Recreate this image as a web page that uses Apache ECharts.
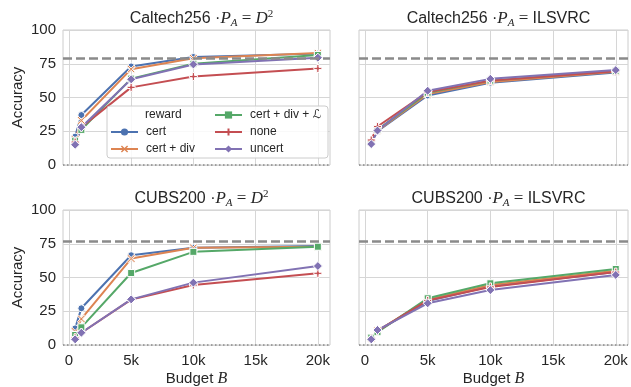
<!DOCTYPE html>
<html><head><meta charset="utf-8">
<script src="https://cdn.jsdelivr.net/npm/echarts@6/dist/echarts.min.js"></script>
<style>html,body{margin:0;padding:0;background:#fff}#c{width:631px;height:387px}</style>
</head><body><div id="c"></div>
<script>
// ---------- data ----------
const budgets = [500, 1000, 5000, 10000, 20000];
const methods = ['cert', 'cert + div', 'cert + div + ℒ', 'none', 'uncert'];
const xTicks = [0, 5000, 10000, 15000, 20000];
const xTickLabels = ['0', '5k', '10k', '15k', '20k'];
const yTicks = [0, 25, 50, 75, 100];

// rows: cert, cert+div, cert+div+L, none, uncert
const caltechD2 = [
  [21, 37, 73, 80, 82.5],
  [19, 33, 71, 79, 83],
  [18, 26, 64, 75, 81.5],
  [17, 28, 57.5, 65.5, 71.5],
  [15, 28, 63.5, 74.5, 79.5]
];
const caltechILSVRC = [
  [17, 25, 51.5, 61, 68.5],
  [17, 25.5, 52.5, 61.5, 69],
  [17, 26, 53.5, 62.5, 69.8],
  [18.5, 28.5, 54, 62.5, 69.5],
  [15.5, 25.5, 55, 63.8, 70.3]
];
const cubsD2 = [
  [12.3, 27.2, 66.5, 72, 73.3],
  [10, 19.3, 64, 72, 72.8],
  [7.4, 13.1, 53.3, 69, 72.8],
  [5.4, 9.1, 33.6, 44.4, 53.1],
  [4.2, 9.1, 33.8, 46.2, 58.5]
];
const cubsILSVRC = [
  [5, 10.5, 32.5, 43.5, 54],
  [5, 10.5, 33.5, 44.5, 55],
  [5.5, 9.5, 34.6, 45.7, 56.3],
  [5, 10.5, 33, 43, 54],
  [4.2, 11.1, 30.9, 40.7, 51.9]
];
const refCaltech = 79.2;
const refCubs = 76.5;
const datasetNames = ['Caltech256', 'Caltech256', 'CUBS200', 'CUBS200'];
const priorNames = ['D2', 'ILSVRC', 'D2', 'ILSVRC'];

// ---------- styles ----------
const panelData = [caltechD2, caltechILSVRC, cubsD2, cubsILSVRC];
const panelRef = [refCaltech, refCaltech, refCubs, refCubs];
const colors = ['#4C72B0', '#DD8452', '#55A868', '#C44E52', '#8172B3'];
const X_PATH = 'path://M-2.6,-3.6L0,-1L2.6,-3.6L3.6,-2.6L1,0L3.6,2.6L2.6,3.6L0,1L-2.6,3.6L-3.6,2.6L-1,0L-3.6,-2.6Z';
const PLUS_PATH = 'path://M-1,-3.6H1V-1H3.6V1H1V3.6H-1V1H-3.6V-1H-1Z';
const symbols = ['circle', X_PATH, 'rect', PLUS_PATH, 'diamond'];
const symbolSizes = [7, 8, 7, 8, 9];
const grids = [
  {left: 63, top: 30, width: 267, height: 135},
  {left: 359, top: 30, width: 269, height: 135},
  {left: 63, top: 210, width: 267, height: 135},
  {left: 359, top: 210, width: 269, height: 135}
];
const FONT = "'Liberation Sans', 'DejaVu Sans', sans-serif";
const SERIF = "'Liberation Serif', 'DejaVu Serif', serif";
const TXT = '#262626';
const GRIDC = '#d6d6d6';

const titleRich = {
  a: {fontSize: 16, fontFamily: FONT, color: TXT, fontWeight: 'normal'},
  i: {fontSize: 17, fontFamily: SERIF, fontStyle: 'italic', color: TXT, fontWeight: 'normal'},
  e: {fontSize: 17, fontFamily: SERIF, color: TXT, fontWeight: 'normal'},
  s: {fontSize: 11, fontFamily: SERIF, fontStyle: 'italic', color: TXT, fontWeight: 'normal', padding: [9, 0, 0, 0]},
  p: {fontSize: 11, fontFamily: SERIF, color: TXT, fontWeight: 'normal', padding: [0, 0, 9, 0]}
};

function titleText(p) {
  const prior = priorNames[p] === 'D2' ? '{i|D}{p|2}' : '{a|ILSVRC}';
  return '{a|' + datasetNames[p] + ' ·}{i|P}{s|A}{e| = }' + prior;
}

const legendCommon = {
  orient: 'vertical', itemWidth: 27, itemHeight: 9, itemGap: 5, z: 12, padding: 0,
  itemStyle: {borderWidth: 0},
  textStyle: {fontSize: 12, fontFamily: FONT, color: TXT, lineHeight: 12, padding: [0, 0, 0, 3]}
};

const option = {
  backgroundColor: '#fff',
  animation: false,
  title: grids.map((g, p) => ({
    text: titleText(p),
    left: g.left + g.width / 2,
    top: g.top - 26,
    textAlign: 'center',
    textStyle: {rich: titleRich, fontSize: 16, fontWeight: 'normal', color: TXT}
  })),
  grid: grids.map(g => Object.assign({show: true, borderColor: '#cccccc', borderWidth: 1,
    backgroundColor: 'transparent', containLabel: false, outerBoundsMode: 'none'}, g)),
  xAxis: grids.map((g, p) => ({
    type: 'value', gridIndex: p, min: -475, max: 20975,
    axisLine: {show: false},
    axisTick: {show: false, customValues: xTicks},
    axisLabel: {show: p >= 2, customValues: xTicks, margin: 8,
      formatter: v => xTickLabels[xTicks.indexOf(v)] ?? '',
      fontSize: 15, fontFamily: FONT, color: TXT},
    splitLine: {show: true, lineStyle: {color: GRIDC, width: 1}},
    name: p >= 2 ? '{a|Budget }{i|B}' : '',
    nameLocation: 'middle', nameGap: 26,
    nameTextStyle: {rich: {
      a: {fontSize: 15, fontFamily: FONT, color: TXT},
      i: {fontSize: 16, fontFamily: SERIF, fontStyle: 'italic', color: TXT}
    }}
  })),
  yAxis: grids.map((g, p) => ({
    type: 'value', gridIndex: p, min: 0, max: 100, interval: 25,
    axisLine: {show: false}, axisTick: {show: false},
    axisLabel: {show: p % 2 === 0, margin: 7, fontSize: 15, fontFamily: FONT, color: TXT},
    splitLine: {show: true, lineStyle: {color: GRIDC, width: 1}},
    name: p % 2 === 0 ? 'Accuracy' : '',
    nameLocation: 'middle', nameGap: 38, nameRotate: 90,
    nameTextStyle: {fontSize: 15, fontFamily: FONT, color: TXT}
  })),
  legend: [
    Object.assign({data: methods.slice(0, 2), left: 110, top: 126}, legendCommon),
    Object.assign({data: methods.slice(2), left: 214, top: 109}, legendCommon)
  ],
  graphic: [
    {type: 'rect', z: 10, shape: {x: 107, y: 106, width: 221, height: 52, r: 3},
     style: {fill: 'rgba(255,255,255,0.85)', stroke: '#cccccc', lineWidth: 1}},
    {type: 'text', z: 11, style: {text: 'reward', x: 145, y: 115, verticalAlign: 'middle',
     font: "12px 'Liberation Sans', sans-serif", fill: TXT}}
  ],
  series: []
};

for (let p = 0; p < 4; p++) {
  for (let m = 0; m < methods.length; m++) {
    const s = {
      type: 'line', name: methods[m], xAxisIndex: p, yAxisIndex: p,
      data: budgets.map((b, i) => [b, panelData[p][m][i]]),
      symbol: symbols[m], symbolSize: symbolSizes[m], showSymbol: true,
      lineStyle: {width: 2, color: colors[m]},
      itemStyle: {color: colors[m], borderColor: '#fff', borderWidth: 1},
      emphasis: {disabled: true}
    };
    if (m === 0) {
      s.markLine = {
        silent: true, symbol: ['none', 'none'], label: {show: false}, animation: false,
        data: [
          {yAxis: panelRef[p], lineStyle: {type: [9, 4], color: '#8a8a8a', width: 2.5}},
          {yAxis: 0, lineStyle: {type: [1.5, 2.5], color: '#8a8a8a', width: 1.5}}
        ]
      };
    }
    option.series.push(s);
  }
}

const chart = echarts.init(document.getElementById('c'), null, {renderer: 'canvas'});
chart.setOption(option);
</script>
</body></html>
